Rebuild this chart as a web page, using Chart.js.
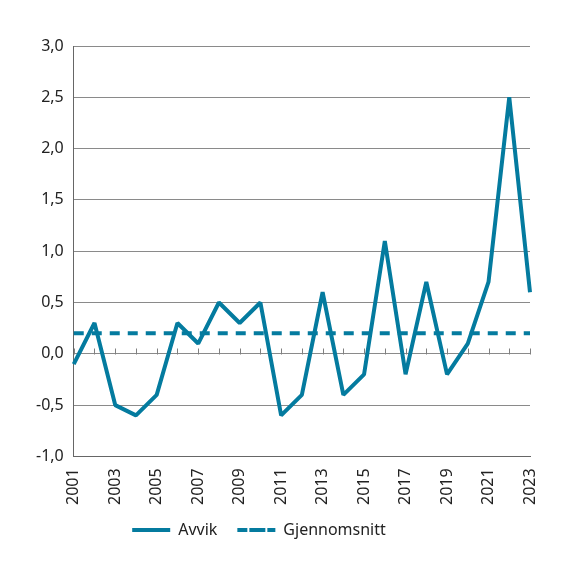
<!DOCTYPE html>
<html lang="no">
<head>
    <meta charset="UTF-8">
    <title>Avvik</title>
    <script src="https://cdn.jsdelivr.net/npm/chart.js@4.4.0/dist/chart.umd.min.js"></script>
    <style>
        html, body {
            margin: 0;
            padding: 0;
            background: #fff;
        }
        .chart-container {
            position: relative;
            width: 576px;
            height: 569px;
        }
    </style>
</head>
<body>
    <div class="chart-container">
        <canvas id="myChart"></canvas>
    </div>
    <script>
        const years = ['2001', '2002', '2003', '2004', '2005', '2006', '2007', '2008', '2009', '2010', '2011', '2012',
            '2013', '2014', '2015', '2016', '2017', '2018', '2019', '2020', '2021', '2022', '2023']
        const avvik = [-0.1, 0.3, -0.5, -0.6, -0.4, 0.3, 0.1, 0.5, 0.3, 0.5, -0.6, -0.4,
            0.6, -0.4, -0.2, 1.1, -0.2, 0.7, -0.2, 0.1, 0.7, 2.5, 0.6]
        const gjennomsnitt = [0.2, 0.2, 0.2, 0.2, 0.2, 0.2, 0.2, 0.2, 0.2, 0.2, 0.2, 0.2,
            0.2, 0.2, 0.2, 0.2, 0.2, 0.2, 0.2, 0.2, 0.2, 0.2, 0.2]
        const yTicks = [-1.0, -0.5, 0.0, 0.5, 1.0, 1.5, 2.0, 2.5, 3.0]

        const blue = '#047b9f'
        const font = 'Noto Sans'

        // small tick marks on the zero line, one per year, pointing up
        const zeroTicks = {
            id: 'zeroTicks',
            beforeDatasetsDraw(chart) {
                const x = chart.scales.x
                const y = chart.scales.y
                const y0 = Math.round(y.getPixelForValue(0)) + 0.5
                const ctx = chart.ctx
                ctx.save()
                ctx.strokeStyle = '#808080'
                ctx.lineWidth = 1
                ctx.beginPath()
                for (let i = 0; i < years.length; i++) {
                    const px = Math.round(x.getPixelForValue(i)) + 0.5
                    ctx.moveTo(px, y0)
                    ctx.lineTo(px, y0 - 6)
                }
                ctx.stroke()
                ctx.restore()
            }
        }

        // legend sits a bit left of centre and closer to the axis labels in the original
        const legendShift = {
            id: 'legendShift',
            afterLayout(chart) {
                chart.legend.left -= 19
                chart.legend.right -= 19
                chart.legend.top -= 15
                chart.legend.bottom -= 15
            }
        }

        var ctx = document.getElementById('myChart').getContext('2d')
        var myChart = new Chart(ctx, {
            type: 'line',
            data: {
                labels: years,
                datasets: [{
                    label: 'Avvik',
                    data: avvik,
                    borderColor: blue,
                    backgroundColor: blue,
                    borderWidth: 4,
                    borderJoinStyle: 'bevel',
                    pointRadius: 0,
                    tension: 0
                }, {
                    label: 'Gjennomsnitt',
                    data: gjennomsnitt,
                    borderColor: blue,
                    backgroundColor: blue,
                    borderWidth: 4,
                    borderDash: [10, 8],
                    pointRadius: 0
                }]
            },
            options: {
                responsive: true,
                maintainAspectRatio: false,
                animation: false,
                layout: {
                    padding: { left: 26, right: 46, top: 46, bottom: 6 }
                },
                plugins: {
                    tooltip: { enabled: false },
                    legend: {
                        position: 'bottom',
                        labels: {
                            boxWidth: 38,
                            boxHeight: 0,
                            padding: 20,
                            color: '#222',
                            font: { family: font, size: 16 }
                        }
                    }
                },
                scales: {
                    x: {
                        offset: false,
                        grid: { display: false, drawTicks: false },
                        border: { display: true, color: '#666', width: 1 },
                        ticks: {
                            autoSkip: false,
                            maxRotation: 90,
                            minRotation: 90,
                            padding: 12,
                            color: '#222',
                            font: { family: font, size: 16 },
                            callback: function (value, index) {
                                return index % 2 === 0 ? years[index] : ''
                            }
                        }
                    },
                    y: {
                        min: -1,
                        max: 3,
                        afterBuildTicks: function (scale) {
                            scale.ticks = yTicks.map(v => ({ value: v }))
                        },
                        grid: { color: '#8a8a8a', drawTicks: false },
                        border: { display: true, color: '#666', width: 1 },
                        ticks: {
                            padding: 10,
                            color: '#222',
                            font: { family: font, size: 16 },
                            callback: function (value) {
                                return value.toFixed(1).replace('.', ',')
                            }
                        }
                    }
                }
            },
            plugins: [zeroTicks, legendShift]
        })
    </script>
</body>
</html>
